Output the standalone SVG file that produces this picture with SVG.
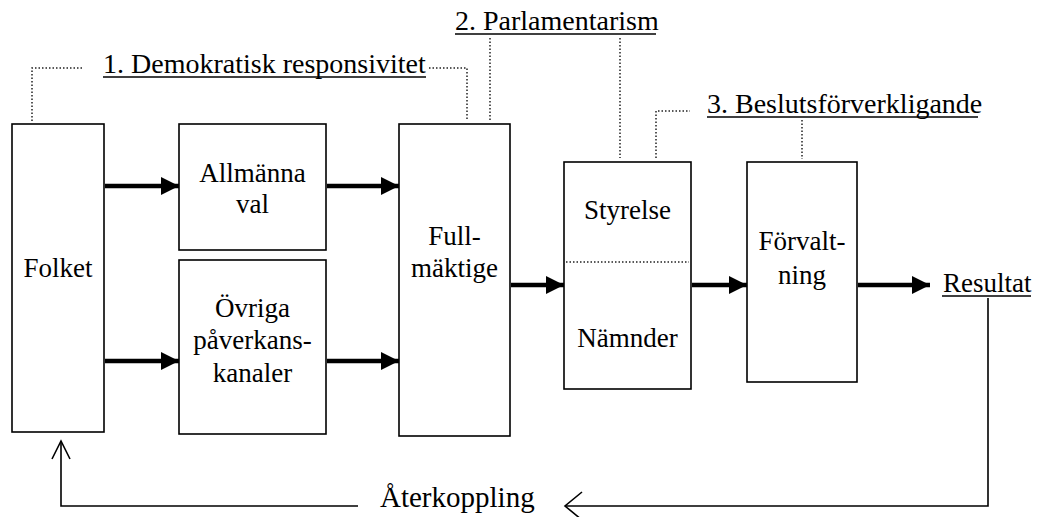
<svg xmlns="http://www.w3.org/2000/svg" width="1037" height="517" viewBox="0 0 1037 517">
<style>
  .box { fill: #fff; stroke: #000; stroke-width: 1.6; }
  .t { font-family: "Liberation Serif", serif; font-size: 27px; fill: #000; text-anchor: middle; }
  .h { font-family: "Liberation Serif", serif; font-size: 28px; fill: #000; }
  .ul { stroke: #000; stroke-width: 1.5; }
  .dot { fill: none; stroke: #222; stroke-width: 1.5; stroke-dasharray: 1.5 2; }
  .thick { stroke: #000; stroke-width: 4.5; fill: none; }
  .thin { stroke: #000; stroke-width: 1.6; fill: none; }
</style>
<defs>
  <marker id="ah" viewBox="0 0 10 10" refX="10" refY="5" markerWidth="4" markerHeight="4.2" orient="auto" markerUnits="strokeWidth">
    <path d="M0,0 L10,5 L0,10 Z" fill="#000"/>
  </marker>
</defs>
<rect width="1037" height="517" fill="#fff"/>

<g id="folket">
  <rect class="box" x="12" y="124" width="92" height="308"/>
  <text class="t" x="58" y="277">Folket</text>
</g>
<g id="allmanna-val">
  <rect class="box" x="179" y="124" width="147" height="126"/>
  <text class="t" x="252.5" y="182">Allmänna</text>
  <text class="t" x="252.5" y="213">val</text>
</g>
<g id="ovriga">
  <rect class="box" x="179" y="260" width="147" height="174"/>
  <text class="t" x="252.5" y="317">Övriga</text>
  <text class="t" x="252.5" y="349">påverkans-</text>
  <text class="t" x="252.5" y="382">kanaler</text>
</g>
<g id="fullmaktige">
  <rect class="box" x="399" y="124" width="111" height="312"/>
  <text class="t" x="454.5" y="245">Full-</text>
  <text class="t" x="454.5" y="277">mäktige</text>
</g>
<g id="styrelse-namnder">
  <rect class="box" x="564" y="162" width="127" height="227"/>
  <line class="dot" x1="566" y1="262" x2="689" y2="262"/>
  <text class="t" x="627.5" y="219">Styrelse</text>
  <text class="t" x="627.5" y="347">Nämnder</text>
</g>
<g id="forvaltning">
  <rect class="box" x="747" y="162" width="110" height="220"/>
  <text class="t" x="802" y="250">Förvalt-</text>
  <text class="t" x="802" y="284">ning</text>
</g>
<g id="resultat">
  <text class="h" x="943" y="292" style="font-size:27px">Resultat</text>
  <line class="ul" x1="942" y1="296" x2="1031" y2="296"/>
</g>
<g id="label-1">
  <text class="h" x="103" y="73">1. Demokratisk responsivitet</text>
  <line class="ul" x1="103" y1="77" x2="426" y2="77"/>
</g>
<g id="label-2">
  <text class="h" x="455" y="30">2. Parlamentarism</text>
  <line class="ul" x1="455" y1="34" x2="656" y2="34"/>
</g>
<g id="label-3">
  <text class="h" x="707" y="113">3. Beslutsförverkligande</text>
  <line class="ul" x1="707" y1="117" x2="978" y2="117"/>
</g>
<g id="aterkoppling">
  <text class="h" x="380" y="507" style="font-size:29px">Återkoppling</text>
</g>

<g id="connectors">
  <path class="dot" d="M32,121 V68 H83"/>
  <path class="dot" d="M429,68 H467 V121"/>
  <path class="dot" d="M490,38 V121"/>
  <path class="dot" d="M620,38 V158"/>
  <path class="dot" d="M656,158 V111 H690"/>
  <path class="dot" d="M802,120 V159"/>
  <line class="thick" x1="105" y1="186" x2="179" y2="186" marker-end="url(#ah)"/>
  <line class="thick" x1="105" y1="361" x2="179" y2="361" marker-end="url(#ah)"/>
  <line class="thick" x1="327" y1="186" x2="399" y2="186" marker-end="url(#ah)"/>
  <line class="thick" x1="327" y1="361" x2="399" y2="361" marker-end="url(#ah)"/>
  <line class="thick" x1="511" y1="285" x2="564" y2="285" marker-end="url(#ah)"/>
  <line class="thick" x1="692" y1="285" x2="747" y2="285" marker-end="url(#ah)"/>
  <line class="thick" x1="858" y1="285" x2="930" y2="285" marker-end="url(#ah)"/>
  <path class="thin" d="M988,298 V506 H565"/>
  <path class="thin" d="M582,492 L565,506 L582,520"/>
  <path class="thin" d="M358,506 H61 V441"/>
  <path class="thin" d="M52,459 L61,441 L70,459"/>
</g>
</svg>
